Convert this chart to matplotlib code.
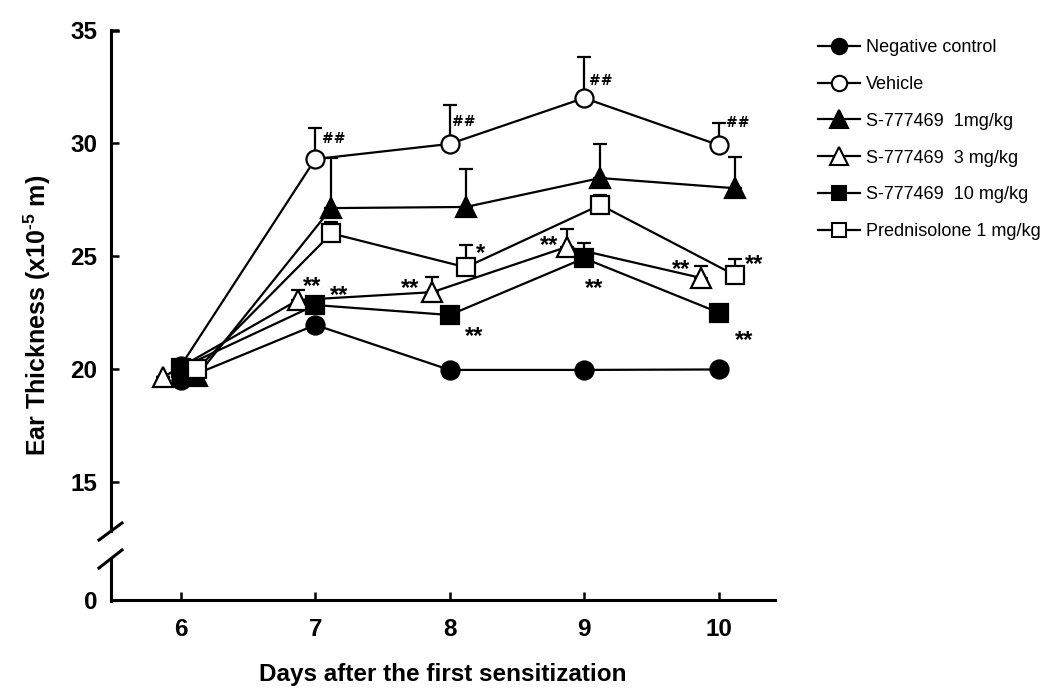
import matplotlib
matplotlib.use("Agg")
import matplotlib.pyplot as plt
from matplotlib.lines import Line2D
import numpy as np

plt.rcParams['font.family'] = ['Liberation Sans', 'DejaVu Sans']
plt.rcParams['mathtext.fontset'] = 'custom'
plt.rcParams['mathtext.rm'] = 'Liberation Sans:bold'
plt.rcParams['mathtext.bf'] = 'Liberation Sans:bold'

# ---- data ----
days = [6, 7, 8, 9, 10]
series_names = ["Negative control", "Vehicle", "S-777469  1mg/kg",
                "S-777469  3 mg/kg", "S-777469  10 mg/kg", "Prednisolone 1 mg/kg"]
neg_control = [19.5, 21.95, 19.96, 19.96, 19.98]
neg_err = [0.0, 0.0, 0.0, 0.0, 0.0]
vehicle = [20.15, 29.29, 29.96, 31.99, 29.91]
vehicle_err = [0.0, 1.37, 1.72, 1.8, 0.97]
s1mg = [19.7, 27.12, 27.17, 28.45, 28.0]
s1mg_err = [0.0, 2.22, 1.68, 1.5, 1.38]
s3mg = [19.65, 23.05, 23.4, 25.4, 24.03]
s3mg_err = [0.0, 0.45, 0.67, 0.8, 0.53]
s10mg = [20.05, 22.83, 22.39, 24.9, 22.5]
s10mg_err = [0.0, 0.2, 0.15, 0.68, 0.15]
pred = [20.0, 26.0, 24.5, 27.26, 24.16]
pred_err = [0.0, 0.5, 0.97, 0.45, 0.7]

y_tick_labels = ["0", "15", "20", "25", "30", "35"]
x_label = "Days after the first sensitization"
y_label = "Ear Thickness (x10$^{\\mathregular{\u2010}5}$ m)"

# significance marks: (series index, day index, text, dx px, dy px)
marks = [
    (1, 1, "##", 18, 20), (1, 2, "##", 14, 22), (1, 3, "##", 17, 17), (1, 4, "##", 19, 22),
    (3, 1, "**", 14, 20), (3, 2, "**", -22, 10), (3, 3, "**", -18, 7), (3, 4, "**", -20, 14),
    (4, 1, "**", 24, 16), (4, 2, "**", 24, -16), (4, 3, "**", 10, -24), (4, 4, "**", 26, -22),
    (5, 2, "*", 15, 20), (5, 4, "**", 19, 16),
]

# ---- figure ----
W, H = 1051, 699
fig = plt.figure(figsize=(W / 100, H / 100), dpi=100)
ax_left, ax_right, ax_bottom, ax_top = 111, 775, 600, 30
ax = fig.add_axes([ax_left / W, 1 - ax_bottom / H, (ax_right - ax_left) / W, (ax_bottom - ax_top) / H])

ymin, ymax = 9.78, 35.0
ax.set_xlim(5.48, 10.42)
ax.set_ylim(ymin, ymax)

all_vals = [neg_control, vehicle, s1mg, s3mg, s10mg, pred]
all_errs = [neg_err, vehicle_err, s1mg_err, s3mg_err, s10mg_err, pred_err]
styles = [
    dict(marker='o', mfc='black', ms=13, off=0.0),
    dict(marker='o', mfc='white', ms=13, off=0.0),
    dict(marker='^', mfc='black', ms=15, off=0.12),
    dict(marker='^', mfc='white', ms=15, off=-0.13),
    dict(marker='s', mfc='black', ms=12.5, off=0.0),
    dict(marker='s', mfc='white', ms=12.5, off=0.12),
]

handles = []
for i, (vals, errs, st) in enumerate(zip(all_vals, all_errs, styles)):
    x = np.array(days) + st['off']
    y = np.array(vals)
    e = np.array(errs)
    ax.errorbar(x, y, yerr=[np.zeros_like(e), e], fmt='none', ecolor='black',
                elinewidth=1.6, capsize=5, capthick=1.6, zorder=2 + i * 0.1)
    ax.plot(x, y, color='black', lw=1.6, zorder=2 + i * 0.1)
    ax.plot(x, y, linestyle='none', marker=st['marker'], mfc=st['mfc'], mec='black',
            mew=1.6, ms=st['ms'], zorder=3 + i * 0.1)
    handles.append(Line2D([], [], color='black', lw=1.6, marker=st['marker'], mfc=st['mfc'],
                          mec='black', mew=1.5, ms=st['ms'] * 0.85))

for si, di, txt, dx, dy in marks:
    x = days[di] + styles[si]['off']
    y = all_vals[si][di]
    if txt.startswith('#'):
        ax.annotate(txt, xy=(x, y), xytext=(dx * 0.72, dy * 0.72), textcoords='offset points',
                    ha='center', va='center', fontsize=10, fontweight='bold',
                    family=['DejaVu Serif'], zorder=5)
    else:
        ax.annotate(txt, xy=(x, y), xytext=(dx * 0.72, (dy - 6) * 0.72), textcoords='offset points',
                    ha='center', va='center', fontsize=17, fontweight='bold', zorder=5)

# axes styling
for s in ['top', 'right', 'left']:
    ax.spines[s].set_visible(False)
ax.spines['bottom'].set_linewidth(2.2)
ax.set_xticks(days)
ax.set_xticklabels([str(d) for d in days])
ax.set_yticks([ymin, 15, 20, 25, 30, 35])
ax.set_yticklabels(y_tick_labels)
ax.tick_params(axis='both', direction='in', length=6, width=1.8, labelsize=17.5, pad=10)
for lab in ax.get_xticklabels() + ax.get_yticklabels():
    lab.set_fontweight('bold')
ax.tick_params(axis='x', pad=13)

# broken left spine in pixel coordinates
def fx(px):
    return px / W
def fy(py):
    return 1 - py / H

lw = 2.2
fig.add_artist(Line2D([fx(111), fx(111)], [fy(30), fy(531)], color='black', lw=lw))
fig.add_artist(Line2D([fx(111), fx(111)], [fy(558), fy(601)], color='black', lw=lw))
fig.add_artist(Line2D([fx(99), fx(122)], [fy(540), fy(523)], color='black', lw=lw))
fig.add_artist(Line2D([fx(99), fx(122)], [fy(568), fy(550)], color='black', lw=lw))
fig.add_artist(Line2D([fx(111), fx(118)], [fy(30.5), fy(30.5)], color='black', lw=1.8))

ax.set_xlabel(x_label, fontsize=17.5, fontweight='bold', labelpad=16)
ax.set_ylabel(y_label, fontsize=18, fontweight='bold', labelpad=12)

fig.legend(handles, series_names, loc='upper left',
           bbox_to_anchor=(818 / W, 1 - 39 / H), frameon=False, fontsize=13,
           handlelength=2.3, handletextpad=0.35, labelspacing=1.1, borderpad=0,
           borderaxespad=0)

fig.savefig("out.png", dpi=100)
